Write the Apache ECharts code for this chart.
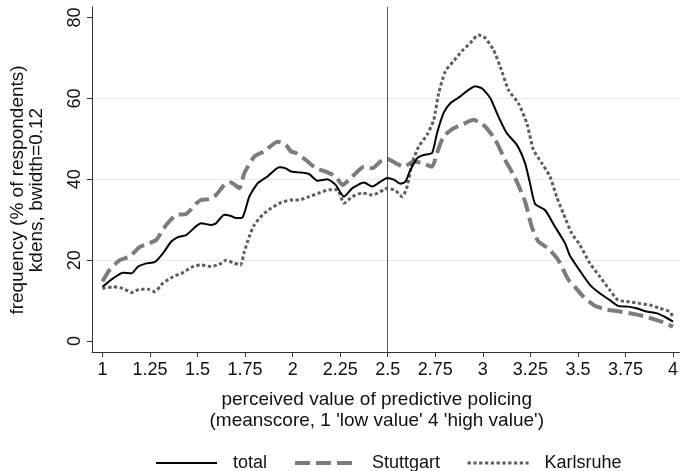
<!DOCTYPE html>
<html><head><meta charset="utf-8">
<script src="https://cdn.jsdelivr.net/npm/echarts@6/dist/echarts.min.js"></script>
<style>html,body{margin:0;padding:0;background:#fff}#c{width:681px;height:471px}</style>
</head><body><div id="c"></div>
<script>
const xTicks = [1, 1.25, 1.5, 1.75, 2, 2.25, 2.5, 2.75, 3, 3.25, 3.5, 3.75, 4];
const yTicks = [0, 20, 40, 60, 80];
const refLineX = 2.5;
const seriesNames = ['total', 'Stuttgart', 'Karlsruhe'];

const totalPts = [[1.000,13.4],[1.056,15.5],[1.108,16.9],[1.152,16.7],[1.187,18.4],[1.231,19.2],[1.274,19.5],[1.318,21.7],[1.362,24.6],[1.397,25.7],[1.440,26.2],[1.493,28.4],[1.519,29.1],[1.571,28.7],[1.597,29.1],[1.641,31.2],[1.676,30.9],[1.702,30.4],[1.737,30.6],[1.772,35.7],[1.816,39.0],[1.868,40.7],[1.929,43.0],[1.964,42.7],[1.991,41.9],[2.034,41.7],[2.086,41.3],[2.131,39.6],[2.183,40.0],[2.226,38.6],[2.270,35.7],[2.314,37.8],[2.375,39.2],[2.419,38.2],[2.462,39.4],[2.497,40.3],[2.532,39.9],[2.567,38.9],[2.593,39.4],[2.619,42.3],[2.655,45.2],[2.689,46.0],[2.733,46.5],[2.759,51.4],[2.794,56.4],[2.829,58.8],[2.882,60.5],[2.925,62.1],[2.960,63.0],[2.995,62.5],[3.039,60.1],[3.082,55.5],[3.126,51.4],[3.179,48.5],[3.222,44.0],[3.248,39.0],[3.275,33.9],[3.327,32.4],[3.379,28.3],[3.432,24.2],[3.459,21.0],[3.510,17.4],[3.563,13.9],[3.615,11.8],[3.668,10.1],[3.711,8.7],[3.764,8.5],[3.808,8.1],[3.860,7.3],[3.912,6.9],[3.956,6.0],[4.000,4.8]];

const stuttgartPts = [[1.000,14.7],[1.038,17.6],[1.091,20.0],[1.143,20.9],[1.195,23.2],[1.248,24.2],[1.283,25.0],[1.335,28.7],[1.388,31.2],[1.440,31.4],[1.493,34.0],[1.519,34.9],[1.562,35.1],[1.597,36.1],[1.641,38.6],[1.676,39.2],[1.720,37.8],[1.746,41.5],[1.798,45.6],[1.851,46.9],[1.921,49.3],[1.964,48.5],[1.991,46.9],[2.017,46.5],[2.069,44.8],[2.122,42.7],[2.174,41.9],[2.226,40.7],[2.262,38.6],[2.314,40.7],[2.375,43.1],[2.419,42.7],[2.462,44.4],[2.497,45.0],[2.541,44.0],[2.584,43.1],[2.637,44.4],[2.681,44.0],[2.733,43.1],[2.759,46.5],[2.794,50.6],[2.846,52.6],[2.899,53.7],[2.951,54.7],[2.986,53.9],[3.013,53.0],[3.065,49.8],[3.117,44.8],[3.170,40.3],[3.222,34.5],[3.257,28.3],[3.292,24.6],[3.344,22.9],[3.397,20.0],[3.449,15.2],[3.484,13.4],[3.528,11.0],[3.589,8.7],[3.650,7.8],[3.720,7.3],[3.790,6.7],[3.860,6.0],[3.912,5.2],[3.965,4.4],[4.000,3.5]];

const karlsruhePts = [[1.000,13.0],[1.056,13.4],[1.108,13.0],[1.152,12.0],[1.195,12.8],[1.240,12.8],[1.274,12.2],[1.318,14.3],[1.371,15.9],[1.423,16.9],[1.475,18.4],[1.519,18.8],[1.571,18.4],[1.624,19.2],[1.650,20.0],[1.685,19.4],[1.725,18.8],[1.746,22.1],[1.772,25.8],[1.798,28.7],[1.842,31.2],[1.886,32.8],[1.938,34.2],[1.991,34.9],[2.034,34.9],[2.086,35.7],[2.139,36.6],[2.191,37.4],[2.235,37.4],[2.270,34.1],[2.314,35.7],[2.366,36.6],[2.419,36.1],[2.480,37.4],[2.497,37.8],[2.541,37.2],[2.576,35.7],[2.602,38.2],[2.628,44.0],[2.663,48.1],[2.707,51.0],[2.742,54.7],[2.768,61.3],[2.803,66.7],[2.846,69.2],[2.890,71.7],[2.934,73.7],[2.977,75.7],[3.013,74.9],[3.056,72.0],[3.091,67.9],[3.135,62.1],[3.187,58.8],[3.231,53.9],[3.266,47.3],[3.310,44.0],[3.353,40.7],[3.388,35.7],[3.423,31.6],[3.467,26.7],[3.510,23.8],[3.563,19.2],[3.615,15.9],[3.668,12.6],[3.711,10.1],[3.772,9.7],[3.824,9.3],[3.877,8.9],[3.929,8.1],[3.981,7.3],[4.000,6.0]];

const FONT = 'Liberation Sans, Arial, sans-serif';
const styles = [
  {color: '#000000', width: 2, type: 'solid'},
  {color: '#7c7c7c', width: 4, type: [15, 6]},
  {color: '#5e5e5e', width: 3, type: [3.3, 2.5]}
];
const chart = echarts.init(document.getElementById('c'), null, {renderer: 'canvas'});
chart.setOption({
  animation: false,
  backgroundColor: '#ffffff',
  grid: {left: 91, right: 0, top: 7, bottom: 119, containLabel: false},
  xAxis: {
    type: 'value', min: 0.945, max: 4.034,
    name: "perceived value of predictive policing\n(meanscore, 1 'low value' 4 'high value')",
    nameLocation: 'middle', nameGap: 37,
    nameTextStyle: {fontFamily: FONT, fontSize: 19, color: '#111', lineHeight: 21, padding: [0, 18, 0, 0]},
    axisLine: {show: true, onZero: false, lineStyle: {color: '#333', width: 1}},
    axisTick: {show: true, length: 5, customValues: xTicks, lineStyle: {color: '#333'}},
    axisLabel: {customValues: xTicks, margin: 9, fontFamily: FONT, fontSize: 18, color: '#111'},
    splitLine: {show: false}
  },
  yAxis: {
    type: 'value', min: -2.72, max: 82.6,
    name: 'frequency (% of respondents)\nkdens, bwidth=0.12',
    nameLocation: 'middle', nameGap: 46, nameRotate: 90,
    nameTextStyle: {fontFamily: FONT, fontSize: 19, color: '#111', lineHeight: 19, padding: [0, 21, 0, 0]},
    axisLine: {show: true, lineStyle: {color: '#333', width: 1}},
    axisTick: {show: true, length: 5, customValues: yTicks, lineStyle: {color: '#333'}},
    axisLabel: {customValues: yTicks, rotate: 90, margin: 8, fontFamily: FONT, fontSize: 18, color: '#111'},
    splitLine: {show: true, showMinLine: false, showMaxLine: false, lineStyle: {color: '#ebebeb', width: 1}}
  },
  legend: {
    left: 150, top: 449, itemWidth: 61, itemHeight: 18, itemGap: 26,
    itemStyle: {opacity: 0},
    textStyle: {fontFamily: FONT, fontSize: 18, color: '#111', padding: [0, 0, 0, 11]},
    data: seriesNames.map((n, i) => ({name: n, lineStyle: {color: styles[i].color, width: styles[i].width, type: styles[i].type, cap: 'butt'}}))
  },
  series: [
    {
      name: seriesNames[0], type: 'line', data: totalPts, showSymbol: false, symbol: 'none', smooth: 0.2, z: 5,
      lineStyle: {color: styles[0].color, width: styles[0].width},
      itemStyle: {color: styles[0].color},
      markLine: {silent: true, symbol: 'none', label: {show: false}, animation: false,
        lineStyle: {color: '#555', width: 1, type: 'solid'}, data: [{xAxis: refLineX}]}
    },
    {
      name: seriesNames[1], type: 'line', data: stuttgartPts, showSymbol: false, symbol: 'none', smooth: 0.2, z: 3,
      lineStyle: {color: styles[1].color, width: styles[1].width, type: styles[1].type, cap: 'butt'},
      itemStyle: {color: styles[1].color}
    },
    {
      name: seriesNames[2], type: 'line', data: karlsruhePts, showSymbol: false, symbol: 'none', smooth: 0.2, z: 4,
      lineStyle: {color: styles[2].color, width: styles[2].width, type: styles[2].type, cap: 'butt'},
      itemStyle: {color: styles[2].color}
    }
  ]
});
</script></body></html>
